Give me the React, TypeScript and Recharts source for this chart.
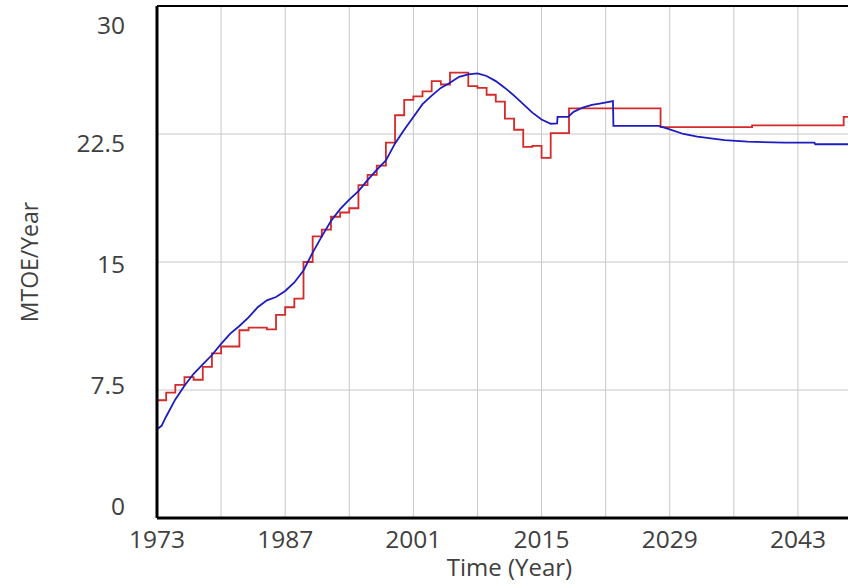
import React from 'react';
import { LineChart, Line, XAxis, YAxis, CartesianGrid, ReferenceLine, Label } from 'recharts';

// Historical / stepped series (red), held constant until the next year listed
const redYears = [
  1973, 1974, 1975, 1976, 1977, 1978, 1979, 1980, 1981, 1982, 1983, 1984, 1985, 1986,
  1987, 1988, 1989, 1990, 1991, 1992, 1993, 1994, 1995, 1996, 1997, 1998, 1999, 2000,
  2001, 2002, 2003, 2004, 2005, 2006, 2007, 2008, 2009, 2010, 2011, 2012, 2013, 2014,
  2015, 2016, 2018, 2028, 2038, 2048, 2050,
];
const redValues = [
  6.9, 7.35, 7.8, 8.25, 8.1, 8.85, 9.65, 10.05, 10.05, 11.0, 11.15, 11.15, 11.05, 11.9,
  12.35, 12.85, 15.0, 16.5, 16.9, 17.65, 17.9, 18.15, 19.5, 20.1, 20.65, 22.0, 23.6, 24.5,
  24.7, 25.0, 25.6, 25.4, 26.1, 26.1, 25.3, 25.2, 24.8, 24.4, 23.4, 22.75, 21.75, 21.8,
  21.1, 22.55, 24.0, 22.9, 23.0, 23.5, 23.5,
];

// Simulated series (blue)
const blueYears = [
  1973, 1973.5, 1974, 1975, 1976, 1977, 1978, 1979, 1980, 1981, 1982, 1983, 1984, 1985,
  1986, 1987, 1988, 1989, 1990, 1991, 1992, 1993, 1994, 1995, 1996, 1997, 1998, 1999,
  2000, 2001, 2002, 2003, 2004, 2005, 2006, 2007, 2008, 2009, 2010, 2011, 2012, 2013,
  2014, 2015, 2016, 2016.7, 2016.75, 2017.9, 2018.5, 2019.5, 2020.5, 2021.5, 2022.8,
  2022.85, 2027.8, 2029, 2030.5, 2032, 2035, 2037.5, 2041.5, 2044.8, 2044.9, 2050,
];
const blueValues = [
  5.2, 5.4, 5.95, 6.95, 7.75, 8.45, 9.0, 9.55, 10.2, 10.8, 11.25, 11.75, 12.35, 12.75,
  12.95, 13.3, 13.8, 14.5, 15.55, 16.5, 17.4, 18.1, 18.65, 19.15, 19.8, 20.4, 20.95, 21.95,
  22.75, 23.5, 24.25, 24.75, 25.2, 25.5, 25.85, 26.0, 26.05, 25.9, 25.6, 25.2, 24.75, 24.25,
  23.75, 23.35, 23.1, 23.12, 23.5, 23.5, 23.8, 24.05, 24.2, 24.3, 24.43,
  22.98, 22.98, 22.77, 22.5, 22.34, 22.14, 22.05, 21.99, 21.99, 21.9, 21.9,
];

const xTickYears = [1973, 1980, 1987, 1994, 2001, 2008, 2015, 2022, 2029, 2036, 2043, 2050];
const xTickLabels = ['1973', '1987', '2001', '2015', '2029', '2043'];
const yTickValues = [0, 7.5, 15, 22.5, 30];
const yTickLabels = ['0', '7.5', '15', '22.5', '30'];

const redData = redYears.map((year, i) => ({ year, v: redValues[i] }));
const blueData = blueYears.map((year, i) => ({ year, v: blueValues[i] }));

const FONT = '"Open Sans", "Noto Sans", sans-serif';
const TEXT = '#404040';
const GRID = '#c8c8c8';

function YTick(props: any) {
  const { x, y, payload } = props;
  const v = payload.value as number;
  const label = yTickLabels[yTickValues.indexOf(v)];
  // labels are spread slightly inside the plot's vertical extent
  const shift = 15 - 28 * (1 - v / 30);
  return (
    <text x={x} y={y + shift} textAnchor="end" dominantBaseline="central"
      fontFamily={FONT} fontSize={24.5} fill={TEXT}>
      {label}
    </text>
  );
}

function XTick(props: any) {
  const { x, y, payload } = props;
  const label = xTickLabels.find((l) => Number(l) === payload.value);
  if (!label) return <g />;
  return (
    <text x={x} y={y} dy="0.72em" textAnchor="middle" fontFamily={FONT} fontSize={24.5} fill={TEXT}>
      {label}
    </text>
  );
}

function XTitle(props: any) {
  const vb = props.viewBox;
  return (
    <text x={vb.x + vb.width / 2} y={vb.y + 58} textAnchor="middle"
      fontFamily={FONT} fontSize={24} fill={TEXT}>
      Time (Year)
    </text>
  );
}

function YTitle(props: any) {
  const vb = props.viewBox;
  const cx = vb.x + 29;
  const cy = vb.y + vb.height / 2;
  return (
    <text x={cx} y={cy} textAnchor="middle" dominantBaseline="central"
      transform={`rotate(-90 ${cx} ${cy})`} fontFamily={FONT} fontSize={23} fill={TEXT}>
      MTOE/Year
    </text>
  );
}

export default function App() {
  return (
    <div style={{ position: 'fixed', left: 0, top: 0, width: 848, height: 584, overflow: 'hidden', background: '#fff' }}>
      <LineChart width={870} height={584} margin={{ top: 6, right: 8, bottom: 0, left: 0 }}>
        <CartesianGrid stroke={GRID} strokeWidth={1} />
        <XAxis
          type="number"
          dataKey="year"
          domain={[1973, 2050]}
          ticks={xTickYears}
          allowDuplicatedCategory={false}
          height={66}
          tickSize={0}
          tickMargin={12}
          tick={<XTick />}
          axisLine={{ stroke: '#000', strokeWidth: 3 }}
          tickLine={false}
        >
          <Label content={<XTitle />} />
        </XAxis>
        <YAxis
          type="number"
          domain={[0, 30]}
          ticks={yTickValues}
          width={157}
          tickSize={0}
          tickMargin={32}
          tick={<YTick />}
          axisLine={{ stroke: '#000', strokeWidth: 3 }}
          tickLine={false}
        >
          <Label content={<YTitle />} />
        </YAxis>
        <ReferenceLine y={30} stroke="#000" strokeWidth={2} />
        <Line data={redData} dataKey="v" type="stepAfter" stroke="#d42a2a" strokeWidth={1.8}
          dot={false} isAnimationActive={false} />
        <Line data={blueData} dataKey="v" type="linear" stroke="#1c1cc0" strokeWidth={1.8}
          dot={false} isAnimationActive={false} />
      </LineChart>
    </div>
  );
}
